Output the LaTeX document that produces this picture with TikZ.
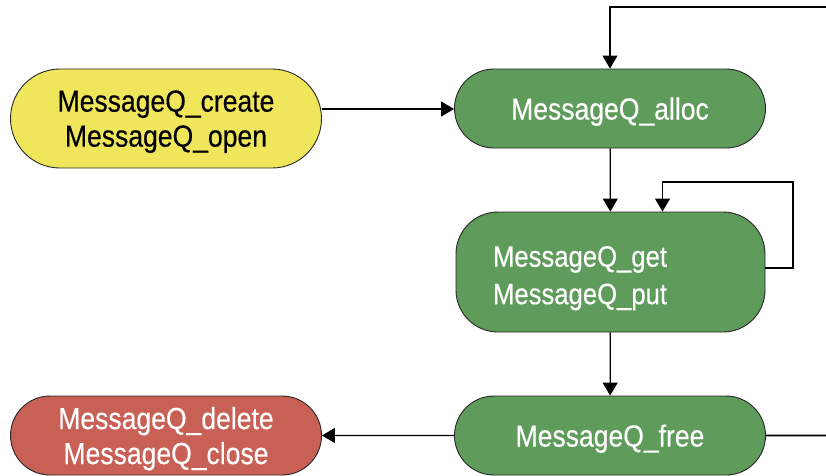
\documentclass[tikz,border=0pt]{standalone}
\usepackage{fontspec}
\setmainfont{Liberation Sans}[FakeStretch=0.87,FakeBold=0.4]
\usetikzlibrary{shapes.misc,arrows.meta}
\definecolor{openyellow}{HTML}{F0E65C}
\definecolor{usegreen}{HTML}{5F9C5B}
\definecolor{closered}{HTML}{C96056}
\begin{document}
\begin{tikzpicture}[x=1pt,y=-1pt,
	state/.style={rounded rectangle,draw=black!85,line width=0.9pt,inner sep=0pt,
		align=center,minimum width=311pt,text depth=0pt,font=\fontsize{30.5}{35}\selectfont},
	>={Triangle[length=13pt,width=15pt]}]
	\useasboundingbox (0,0) rectangle (826,475);
	
	\node[state,fill=openyellow,minimum height=99pt] (create) at (166,118.5) {MessageQ\_create\\MessageQ\_open};
	\node[state,fill=usegreen,text=white,minimum height=79pt] (alloc) at (610,108.5) {MessageQ\_alloc};
	\node[draw=black!85,line width=0.9pt,fill=usegreen,text=white,rounded corners=42pt,
		inner xsep=37pt,text width=235pt,align=left,minimum height=120pt,
		font=\fontsize{29.5}{37.5}\selectfont] (getput) at (610.5,272) {\rule{0pt}{33pt}MessageQ\_get\\MessageQ\_put};
	\node[state,fill=usegreen,text=white,minimum height=79pt] (free) at (610,435.5) {MessageQ\_free};
	\node[state,fill=closered,text=white,minimum height=79pt] (delete) at (166,435.5) {MessageQ\_delete\\MessageQ\_close};
	
	\coordinate (topin) at (826,7);
	\coordinate (loop) at (793,182);
	\coordinate (out) at (826,435.5);
	
	\draw[->,line width=1.2pt] (create.east |- 0,109) -- (alloc.west |- 0,109);
	\draw[->,line width=1.2pt] (topin) -| (alloc.north);
	\draw[->,line width=1.2pt] (alloc) edge (getput)
	(getput) edge (free)
	(free) edge (delete);
	\draw[->,line width=1.2pt] (getput.east |- 0,268) -| (loop) -| ([xshift=52pt]getput.north);
	\draw[line width=1.8pt] (free) -- (out);
	\end{tikzpicture}
\end{document}
